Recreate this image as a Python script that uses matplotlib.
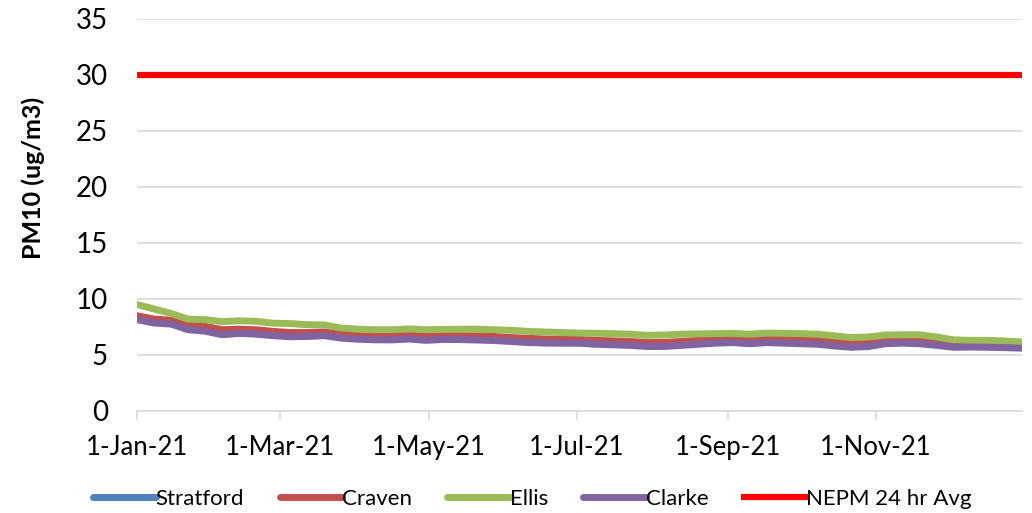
import matplotlib
matplotlib.use('Agg')
import matplotlib.pyplot as plt
import matplotlib.dates as mdates
import pandas as pd

plt.rcParams['font.family'] = ['Lato', 'DejaVu Sans']

# weekly readings, 1-Jan-21 to 31-Dec-21
dates = pd.date_range('2021-01-01', periods=53, freq='7D')

clarke = [8.15, 7.85, 7.75, 7.25, 7.12, 6.80, 6.92, 6.85, 6.72, 6.62,
          6.65, 6.72, 6.50, 6.40, 6.35, 6.34, 6.42, 6.30, 6.38, 6.37,
          6.33, 6.28, 6.20, 6.10, 6.06, 6.04, 6.04, 5.95, 5.90, 5.85,
          5.75, 5.76, 5.85, 5.95, 6.05, 6.10, 6.00, 6.10, 6.05, 6.00,
          5.95, 5.80, 5.68, 5.75, 6.00, 6.05, 6.00, 5.85, 5.68, 5.70,
          5.68, 5.65, 5.60]
craven = [8.50, 8.20, 8.10, 7.65, 7.55, 7.25, 7.30, 7.25, 7.10, 7.00,
          7.00, 7.05, 6.85, 6.80, 6.72, 6.70, 6.78, 6.68, 6.72, 6.72,
          6.70, 6.65, 6.55, 6.48, 6.42, 6.40, 6.38, 6.30, 6.25, 6.20,
          6.10, 6.12, 6.20, 6.30, 6.40, 6.45, 6.35, 6.45, 6.40, 6.35,
          6.30, 6.15, 6.03, 6.10, 6.35, 6.40, 6.35, 6.15, 5.98, 5.98,
          5.96, 5.93, 5.88]
stratford = [8.30, 8.00, 7.90, 7.40, 7.30, 7.00, 7.10, 7.03, 6.90, 6.80,
             6.80, 6.88, 6.65, 6.57, 6.50, 6.50, 6.58, 6.46, 6.53, 6.52,
             6.49, 6.44, 6.36, 6.27, 6.22, 6.20, 6.19, 6.10, 6.06, 6.00,
             5.90, 5.92, 6.00, 6.10, 6.20, 6.25, 6.15, 6.25, 6.20, 6.15,
             6.10, 5.96, 5.84, 5.90, 6.15, 6.20, 6.15, 5.98, 5.82, 5.82,
             5.80, 5.78, 5.73]
ellis = [9.50, 9.10, 8.70, 8.20, 8.15, 7.97, 8.05, 8.00, 7.83, 7.80,
         7.70, 7.68, 7.40, 7.30, 7.25, 7.25, 7.32, 7.25, 7.28, 7.29,
         7.30, 7.25, 7.20, 7.10, 7.05, 7.00, 6.95, 6.93, 6.90, 6.85,
         6.75, 6.78, 6.85, 6.88, 6.90, 6.93, 6.85, 6.95, 6.93, 6.90,
         6.85, 6.70, 6.55, 6.60, 6.78, 6.80, 6.80, 6.60, 6.35, 6.30,
         6.30, 6.25, 6.15]
nepm_limit = 30

series = [('Stratford', stratford, '#4F81BD'),
          ('Craven', craven, '#C0504D'),
          ('Ellis', ellis, '#9BBB59'),
          ('Clarke', clarke, '#8064A2')]

fig = plt.figure(figsize=(10.32, 5.13), dpi=100)
ax = fig.add_axes([0.1328, 0.199, 0.8572, 0.764])

for name, vals, color in series:
    ax.plot(dates, vals, color=color, linewidth=5, label=name,
            solid_capstyle='round', solid_joinstyle='round')
ax.plot([dates[0], dates[-1]], [nepm_limit, nepm_limit], color='#FF0000',
        linewidth=4.5, label='NEPM 24 hr Avg')

ax.set_xlim(dates[0], dates[-1])
ax.set_ylim(0, 35)
ax.set_yticks(range(0, 36, 5))
ax.xaxis.set_major_locator(mdates.MonthLocator(bymonth=[1, 3, 5, 7, 9, 11]))
ax.xaxis.set_major_formatter(mdates.DateFormatter('%-d-%b-%y'))

ax.grid(axis='y', color='#D9D9D9', linewidth=1.2)
ax.set_axisbelow(True)
for s in ['top', 'right', 'left']:
    ax.spines[s].set_visible(False)
ax.spines['bottom'].set_color('#D9D9D9')
ax.spines['bottom'].set_linewidth(1.2)
ax.tick_params(axis='y', length=0, labelsize=20, pad=21)
ax.tick_params(axis='x', length=6.5, color='#D9D9D9', width=1.2,
               labelsize=18.5, pad=11)

fig.text(0.032, 0.653, 'PM10 (ug/m3)', rotation=90, ha='center', va='center',
         fontsize=18, fontweight='bold')

fig.legend(loc='center', bbox_to_anchor=(0.516, 0.027), ncol=5, frameon=False,
           fontsize=16, handlelength=2.8, handletextpad=0.0,
           columnspacing=1.6)

fig.savefig('out.png', dpi=100)
